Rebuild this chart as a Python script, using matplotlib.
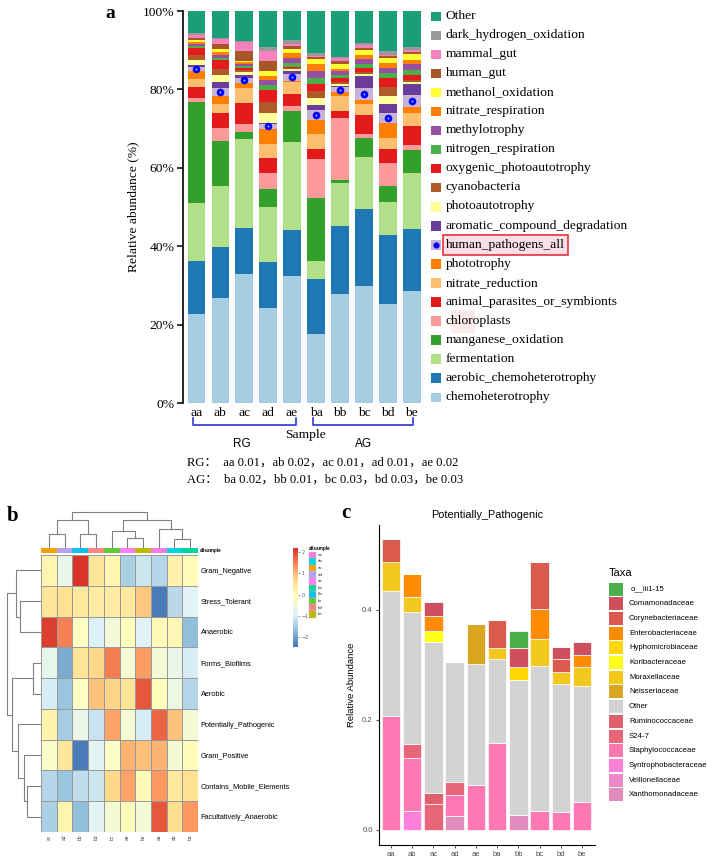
import matplotlib
matplotlib.use("Agg")
import matplotlib.pyplot as plt
import numpy as np
from matplotlib.colors import LinearSegmentedColormap, Normalize
from matplotlib.cm import ScalarMappable
from matplotlib.patches import Rectangle

# ---------------- data ----------------
samples = ['aa', 'ab', 'ac', 'ad', 'ae', 'ba', 'bb', 'bc', 'bd', 'be']

# panel a: FAPROTAX functions, bottom -> top of the stack
functions = ['chemoheterotrophy', 'aerobic_chemoheterotrophy', 'fermentation',
             'manganese_oxidation', 'chloroplasts', 'animal_parasites_or_symbionts',
             'nitrate_reduction', 'phototrophy', 'human_pathogens_all',
             'aromatic_compound_degradation', 'photoautotrophy', 'cyanobacteria',
             'oxygenic_photoautotrophy', 'nitrogen_respiration', 'methylotrophy',
             'nitrate_respiration', 'methanol_oxidation', 'human_gut', 'mammal_gut',
             'dark_hydrogen_oxidation', 'Other']
func_colors = ['#a6cee3', '#1f78b4', '#b2df8a', '#33a02c', '#fb9a99', '#e31a1c',
               '#fdbf6f', '#ff7f00', '#cab2d6', '#6a3d9a', '#ffff99', '#b15928',
               '#e41a1c', '#4daf4a', '#984ea3', '#ff7f00', '#ffff33', '#a65628',
               '#f781bf', '#999999', '#1b9e77']

aa = [22.8, 13.4, 14.9, 25.8, 1.0, 2.6, 2.2, 2.1, 1.0, 0.4, 1.3, 1.4, 1.7, 0.4, 0.5, 0.5, 0.5, 0.7, 0.8, 0.3, 5.7]
ab = [26.8, 13.0, 15.6, 11.5, 3.3, 3.9, 2.3, 2.0, 2.0, 1.5, 1.7, 1.7, 2.1, 0.7, 0.8, 0.7, 0.6, 1.3, 1.3, 0.3, 6.9]
ac = [33.0, 11.7, 22.6, 1.9, 2.1, 5.3, 3.7, 1.3, 1.4, 0.7, 0.7, 0.6, 0.4, 0.6, 0.5, 0.5, 0.3, 2.5, 2.3, 0.3, 7.6]
ad = [24.3, 11.6, 14.2, 4.5, 4.0, 3.8, 3.6, 3.9, 1.3, 0.3, 2.6, 2.7, 3.1, 1.1, 1.3, 1.0, 1.3, 2.6, 2.6, 1.0, 9.2]
ae = [32.5, 11.6, 22.4, 8.0, 1.3, 3.1, 2.9, 0.4, 1.8, 0.8, 0.3, 0.3, 0.4, 0.9, 1.2, 1.4, 1.0, 0.7, 0.6, 0.9, 7.5]
ba = [17.7, 13.9, 4.6, 16.2, 9.8, 2.6, 3.9, 3.6, 2.4, 1.4, 1.7, 1.7, 1.9, 1.4, 1.9, 1.7, 1.4, 0.4, 0.2, 0.9, 10.7]
bb = [27.9, 17.3, 10.8, 0.9, 15.7, 2.0, 3.6, 1.1, 1.3, 0.3, 0.5, 0.6, 0.9, 0.9, 0.9, 0.6, 1.1, 0.8, 0.7, 0.3, 11.8]
bc = [29.8, 19.7, 13.2, 4.9, 1.0, 4.9, 2.7, 1.1, 3.0, 3.1, 0.5, 0.6, 0.9, 1.1, 1.2, 1.1, 1.3, 0.4, 0.7, 0.6, 8.2]
bd = [25.2, 17.6, 8.5, 4.0, 6.0, 3.4, 3.0, 3.7, 2.6, 2.4, 2.0, 2.2, 2.3, 1.3, 1.3, 1.3, 1.3, 0.4, 0.4, 0.9, 10.2]
be = [28.5, 16.0, 14.2, 5.8, 1.4, 4.7, 3.5, 1.4, 3.0, 2.8, 0.6, 0.6, 1.1, 1.4, 1.4, 1.2, 1.4, 0.6, 0.4, 0.9, 9.1]

rg_p = [0.01, 0.02, 0.01, 0.01, 0.02]
ag_p = [0.02, 0.01, 0.03, 0.03, 0.03]

# panel b: heatmap (z-scores), clustered order
hm_cols = ['ac', 'ad', 'bb', 'bd', 'bc', 'ae', 'be', 'aa', 'ab', 'ba']
hm_rows = ['Gram_Negative', 'Stress_Tolerant', 'Anaerobic', 'Forms_Biofilms', 'Aerobic',
           'Potentially_Pathogenic', 'Gram_Positive', 'Contains_Mobile_Elements',
           'Facultatively_Anaerobic']
gram_negative = [0.1, -0.7, 2.15, 0.5, 0.1, -1.45, -1.1, -1.35, 0.2, -0.05]
stress_tolerant = [0.5, 0.6, 0.4, 0.35, 0.35, 0.4, 0.85, -2.4, -1.3, -0.9]
anaerobic = [2.05, 1.5, -0.2, -0.95, -0.5, -0.1, -0.9, 0.0, 0.05, -1.7]
forms_biofilms = [-0.75, -1.9, 0.55, 0.7, 1.55, -0.4, 1.25, -0.45, -0.7, -1.0]
aerobic = [-1.0, -1.6, -0.2, 0.9, 0.75, 0.55, 1.85, -0.1, -0.6, -1.35]
pot_pathogenic = [0.15, -1.5, -0.7, -1.15, 1.2, -0.4, -1.0, 1.75, 0.9, -0.4]
gram_positive = [-0.25, 0.45, -2.4, -0.85, -0.25, 1.05, 0.95, 1.05, -0.4, -0.05]
mobile_elements = [-1.35, -1.6, -1.25, -1.1, 0.7, 1.2, 0.0, 1.3, 0.4, 0.6]
fac_anaerobic = [-1.45, 0.1, -1.7, -0.85, -0.4, -0.05, -0.45, 1.85, 0.65, 1.3]

# dendrograms: (left, right, height), leaves are positions in the order above
col_tree = (((0, 1, 14.3), (2, 3, 14.3), 28.3), ((4, (5, 6, 10), 16.7), (7, (8, 9, 9), 19), 28.3), 36)
row_tree = ((0, (1, 2, 21), 25), ((3, 4, 7.7), (5, (6, (7, 8, 14.3), 16.7), 22.7), 29), 34.3)

ann_colors = {'aa': '#f77be0', 'ab': '#00d4dc', 'ac': '#f2a100', 'ad': '#b3a2f0',
              'ae': '#fa7ef5', 'ba': '#00d49c', 'bb': '#14bff0', 'bc': '#60cc30',
              'bd': '#f8867e', 'be': '#bfb800'}

# panel c: Potentially_Pathogenic taxa (legend order, first = top of stack)
taxa = ['o__iii1-15', 'Comamonadaceae', 'Corynebacteriaceae', 'Enterobacteriaceae',
        'Hyphomicrobiaceae', 'Koribacteraceae', 'Moraxellaceae', 'Neisseriaceae', 'Other',
        'Ruminococcaceae', 'S24-7', 'Staphylococcaceae', 'Syntrophobacteraceae',
        'Veillonellaceae', 'Xanthomonadaceae']
taxa_colors = ['#4daf4a', '#cf4f5e', '#da5b4e', '#ff8c00', '#ffd700', '#ffff1a',
               '#f2c81e', '#daa520', '#d3d3d3', '#e0606e', '#e8657a', '#ff78b4',
               '#ff80d8', '#ee88c6', '#e28cbe']
o_iii1_15 = [0, 0, 0, 0, 0, 0, 0.031, 0, 0, 0]
comamonadaceae = [0, 0, 0.026, 0, 0, 0, 0.035, 0, 0.023, 0.023]
corynebacteriaceae = [0.041, 0, 0, 0, 0, 0.050, 0, 0.086, 0.022, 0]
enterobacteriaceae = [0, 0.042, 0.027, 0, 0, 0, 0, 0.055, 0, 0.022]
hyphomicrobiaceae = [0, 0, 0, 0, 0, 0, 0.023, 0, 0, 0]
koribacteraceae = [0, 0, 0.021, 0, 0, 0, 0, 0, 0, 0]
moraxellaceae = [0.053, 0.028, 0, 0, 0, 0.021, 0, 0.048, 0.023, 0.035]
neisseriaceae = [0, 0, 0, 0, 0.072, 0, 0, 0, 0, 0]
other_taxa = [0.228, 0.240, 0.273, 0.218, 0.221, 0.152, 0.246, 0.264, 0.233, 0.210]
ruminococcaceae = [0, 0, 0.021, 0, 0, 0, 0, 0, 0, 0]
s24_7 = [0, 0.026, 0.047, 0.024, 0, 0, 0, 0, 0, 0]
staphylococcaceae = [0.207, 0.095, 0, 0.038, 0.081, 0.158, 0, 0.035, 0.032, 0.051]
syntrophobacteraceae = [0, 0.035, 0, 0, 0, 0, 0, 0, 0, 0]
veillonellaceae = [0, 0, 0, 0, 0, 0, 0, 0, 0, 0]
xanthomonadaceae = [0, 0, 0, 0.025, 0, 0, 0.027, 0, 0, 0]

# ---------------- figure ----------------
W, H = 708, 858
fig = plt.figure(figsize=(W / 100, H / 100), dpi=100)
serif = 'Liberation Serif'
sans = 'Liberation Sans'


def box(x0, y0, x1, y1):
    # pixel box (origin top-left) -> figure fraction
    return [x0 / W, 1 - y1 / H, (x1 - x0) / W, (y1 - y0) / H]


# overlay for free text / legends, pixel coordinates
ov = fig.add_axes([0, 0, 1, 1])
ov.set_xlim(0, W)
ov.set_ylim(H, 0)
ov.axis('off')

# ---------- panel a ----------
axa = fig.add_axes(box(183, 11, 421, 403))
vals = np.array([aa, ab, ac, ad, ae, ba, bb, bc, bd, be])
x = np.arange(len(samples))
bottom = np.zeros(len(samples))
for j, (name, col) in enumerate(zip(functions, func_colors)):
    axa.bar(x, vals[:, j], 0.72, bottom=bottom, color=col, linewidth=0)
    if name == 'human_pathogens_all':
        yc = bottom + vals[:, j] / 2
        axa.scatter(x, yc, s=30, color='#0000ff', zorder=3, linewidths=0)
        axa.scatter(x, yc, s=2, color='#9db8ff', zorder=4, linewidths=0)
    bottom += vals[:, j]
axa.set_xlim(-0.55, 9.38)
axa.set_ylim(0, 100)
axa.set_yticks([0, 20, 40, 60, 80, 100])
axa.set_yticklabels(['%d%%' % v for v in [0, 20, 40, 60, 80, 100]], family=serif, fontsize=9.7)
axa.set_xticks(x)
axa.set_xticklabels(samples, family=serif, fontsize=9.7)
axa.tick_params(axis='x', length=0, pad=3)
axa.tick_params(axis='y', length=4, width=1.1, direction='out', pad=2)
for s in ['top', 'right', 'bottom']:
    axa.spines[s].set_visible(False)
axa.spines['left'].set_linewidth(1.2)

ov.text(110, 13, 'a', family=serif, fontsize=14, fontweight='bold', ha='center', va='center')
ov.text(133, 207, 'Relative abundance (%)', family=serif, fontsize=9.7, rotation=90,
        ha='center', va='center')
ov.text(305, 435, 'Sample', family=serif, fontsize=9.7, ha='center', va='center')
ov.text(242, 444, 'RG', family=sans, fontsize=8.5, ha='center', va='center')
ov.text(364, 444, 'AG', family=sans, fontsize=8.5, ha='center', va='center')
for x0, x1 in [(193, 296), (313, 413)]:
    ov.plot([x0, x0, x1, x1], [418, 425, 425, 418], color='#2b35d8', lw=1.2)

cjk = [serif, 'Noto Sans CJK SC']
rg_txt = 'RG：  ' + '，'.join('%s %.2f' % (s, p) for s, p in zip(samples[:5], rg_p))
ag_txt = 'AG：  ' + '，'.join('%s %.2f' % (s, p) for s, p in zip(samples[5:], ag_p))
ov.text(187, 463, rg_txt, family=cjk, fontsize=9.1, va='center')
ov.text(187, 480, ag_txt, family=cjk, fontsize=9.1, va='center')

# legend a (top -> bottom)
ov.add_patch(Rectangle((451, 310), 24, 23, color='#fcebeb', lw=0))
for i, (name, col) in enumerate(zip(functions[::-1], func_colors[::-1])):
    yc = 16 + i * 19.05
    ov.add_patch(Rectangle((431, yc - 4.5), 9.5, 9.5, color=col, lw=0))
    if name == 'human_pathogens_all':
        ov.add_patch(Rectangle((443, yc - 9.5), 125, 19.5, facecolor='#f9dfe6',
                               edgecolor='#e8323c', lw=1.2))
        ov.scatter([435.7], [yc], s=20, color='#0000ff', zorder=5, linewidths=0)
    ov.text(446, yc, name, family=serif, fontsize=9.7, va='center')

# ---------- panel b ----------
hm = np.array([gram_negative, stress_tolerant, anaerobic, forms_biofilms, aerobic,
               pot_pathogenic, gram_positive, mobile_elements, fac_anaerobic])
cmap = LinearSegmentedColormap.from_list(
    'rdylbu', ['#4575b4', '#91bfdb', '#e0f3f8', '#ffffbf', '#fee090', '#fc8d59', '#d73027'])
norm = Normalize(-2.47, 2.19)

axh = fig.add_axes(box(41, 555, 198, 832))
axh.pcolormesh(hm, cmap=cmap, norm=norm, edgecolors='#9a9a9a', linewidth=0.5)
axh.set_xlim(0, len(hm_cols))
axh.set_ylim(len(hm_rows), 0)
axh.yaxis.tick_right()
axh.set_yticks(np.arange(len(hm_rows)) + 0.5)
axh.set_yticklabels(hm_rows, family=sans, fontsize=5.3)
axh.set_xticks(np.arange(len(hm_cols)) + 0.5)
axh.set_xticklabels(hm_cols, family=sans, fontsize=3.5, rotation=90, color='#444444')
axh.tick_params(length=0, pad=2)
for s in axh.spines.values():
    s.set_visible(False)

# annotation bar
axn = fig.add_axes(box(41, 548, 198, 553))
for i, s in enumerate(hm_cols):
    axn.add_patch(Rectangle((i, 0), 1, 1, color=ann_colors[s], lw=0))
axn.set_xlim(0, len(hm_cols))
axn.set_ylim(0, 1)
axn.axis('off')
ov.text(200, 550.5, 'allsample', family=sans, fontsize=3.3, fontweight='bold', va='center')


def draw_tree(ax, node, top):
    if isinstance(node, int):
        return node + 0.5, 0.0
    lp, lh = draw_tree(ax, node[0], top)
    rp, rh = draw_tree(ax, node[1], top)
    h = node[2]
    if top:
        ax.plot([lp, lp, rp, rp], [lh, h, h, rh], color='#808080', lw=0.8)
    else:
        ax.plot([lh, h, h, rh], [lp, lp, rp, rp], color='#808080', lw=0.8)
    return (lp + rp) / 2, h


axcd = fig.add_axes(box(41, 510, 198, 548))
draw_tree(axcd, col_tree, True)
axcd.set_xlim(0, len(hm_cols))
axcd.set_ylim(0, 38)
axcd.axis('off')

axrd = fig.add_axes(box(5, 555, 41, 832))
draw_tree(axrd, row_tree, False)
axrd.set_xlim(36, 0)
axrd.set_ylim(len(hm_rows), 0)
axrd.axis('off')

# colorbar
cax = fig.add_axes(box(293, 548, 298, 647))
cb = fig.colorbar(ScalarMappable(norm=norm, cmap=cmap), cax=cax, ticks=[-2, -1, 0, 1, 2])
cb.outline.set_visible(False)
cax.tick_params(labelsize=3.5, length=1.5, width=0.4, colors='#555555', pad=1)

ov.text(309, 548.5, 'allsample', family=sans, fontsize=3.3, fontweight='bold', va='center')
for i, s in enumerate(samples):
    ov.add_patch(Rectangle((309, 551.5 + i * 6.6), 7, 6.6, facecolor=ann_colors[s],
                           edgecolor='#bbbbbb', lw=0.3))
    ov.text(318, 554.8 + i * 6.6, s, family=sans, fontsize=3.2, va='center', color='#333333')

ov.text(13, 516, 'b', family=serif, fontsize=15, fontweight='bold', ha='center', va='center')

# ---------- panel c ----------
axc = fig.add_axes(box(379, 525, 595, 845))
tvals = [o_iii1_15, comamonadaceae, corynebacteriaceae, enterobacteriaceae,
         hyphomicrobiaceae, koribacteraceae, moraxellaceae, neisseriaceae, other_taxa,
         ruminococcaceae, s24_7, staphylococcaceae, syntrophobacteraceae,
         veillonellaceae, xanthomonadaceae]
bottom = np.zeros(len(samples))
for name, col, v in list(zip(taxa, taxa_colors, tvals))[::-1]:
    v = np.array(v)
    axc.bar(x, v, 0.87, bottom=bottom, color=col, edgecolor='white', linewidth=0.5)
    bottom += v
axc.set_xlim(-0.56, 9.6)
axc.set_ylim(-0.0273, 0.5545)
axc.set_yticks([0, 0.2, 0.4])
axc.set_yticklabels(['0.0', '0.2', '0.4'], family=sans, fontsize=5.5, color='#4d4d4d')
axc.set_xticks(x)
axc.set_xticklabels(samples, family=sans, fontsize=5.5, color='#4d4d4d')
axc.tick_params(length=2.5, width=0.6, color='#333333', pad=2)
for s in ['top', 'right']:
    axc.spines[s].set_visible(False)
axc.spines['left'].set_linewidth(0.8)
axc.spines['bottom'].set_linewidth(0.8)
ov.text(352, 685, 'Relative Abundance', family=sans, fontsize=6.8, rotation=90,
        ha='center', va='center')
ov.text(487, 515, 'Potentially_Pathogenic', family=sans, fontsize=7.8, ha='center', va='center')
ov.text(346, 513, 'c', family=serif, fontsize=15, fontweight='bold', ha='center', va='center')

ov.text(609, 573, 'Taxa', family=sans, fontsize=8, va='center')
for i, (name, col) in enumerate(zip(taxa, taxa_colors)):
    yc = 589 + i * 14.7
    ov.add_patch(Rectangle((609, yc - 6.5), 14, 13, color=col, lw=0))
    ov.text(629 if name != 'o__iii1-15' else 631, yc, name, family=sans, fontsize=5.6, va='center')

fig.savefig('out.png', dpi=100)
